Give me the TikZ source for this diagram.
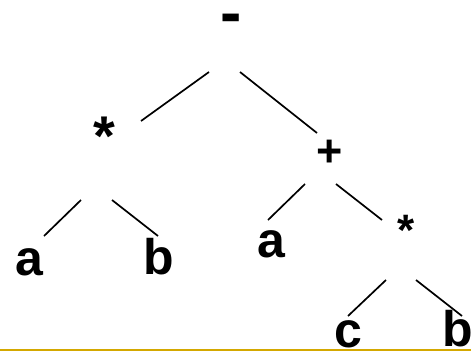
\documentclass[tikz,border=0pt]{standalone}
\usepackage{fontspec}
\setmainfont{Liberation Sans}
\definecolor{rulegold}{RGB}{212,168,0}
\begin{document}
\begin{tikzpicture}[x=1pt,y=-1pt,
  sym/.style={inner sep=0pt,outer sep=0pt,anchor=center,font=\bfseries},
  edge/.style={line width=1.7pt,black}]
\useasboundingbox (0,0) rectangle (471,351);
% nodes
\node[sym,font=\fontsize{64}{64}\selectfont\bfseries] (root) at (231.5,24) {-};
\node[sym,font=\fontsize{56}{56}\selectfont\bfseries] (mulL) at (104,136) {*};
\node[sym,font=\fontsize{45}{45}\selectfont\bfseries] (plus) at (330,153) {+};
\node[sym,font=\fontsize{50}{50}\selectfont\bfseries] (aL) at (29.5,262) {a};
\node[sym,font=\fontsize{50}{50}\selectfont\bfseries] (bL) at (159,257) {b};
\node[sym,font=\fontsize{50}{50}\selectfont\bfseries] (aR) at (271.5,244) {a};
\node[sym,font=\fontsize{44}{44}\selectfont\bfseries] (mulR) at (406,230) {*};
\node[sym,font=\fontsize{50}{50}\selectfont\bfseries] (c) at (348.5,334) {c};
\node[sym,font=\fontsize{50}{50}\selectfont\bfseries] (bR) at (458,329) {b};
% connector ends
\coordinate (r1) at (209,72);   \coordinate (m1) at (141,121);
\coordinate (r2) at (240,72);   \coordinate (p1) at (317,133);
\coordinate (m2) at (81,200);   \coordinate (a1) at (44,236);
\coordinate (m3) at (112,200);  \coordinate (b1) at (158,236);
\coordinate (p2) at (305,184);  \coordinate (a2) at (268,220);
\coordinate (p3) at (336,184);  \coordinate (s1) at (382,220);
\coordinate (s2) at (386,280);  \coordinate (c1) at (348,316);
\coordinate (s3) at (416,280);  \coordinate (b2) at (462,316);
\draw[edge] (r1) -- (m1);
\draw[edge] (r2) -- (p1);
\draw[edge] (m2) -- (a1);
\draw[edge] (m3) -- (b1);
\draw[edge] (p2) -- (a2);
\draw[edge] (p3) -- (s1);
\draw[edge] (s2) -- (c1);
\draw[edge] (s3) -- (b2);
% bottom rule
\fill[rulegold] (0,349) rectangle (471,351);
\end{tikzpicture}
\end{document}
